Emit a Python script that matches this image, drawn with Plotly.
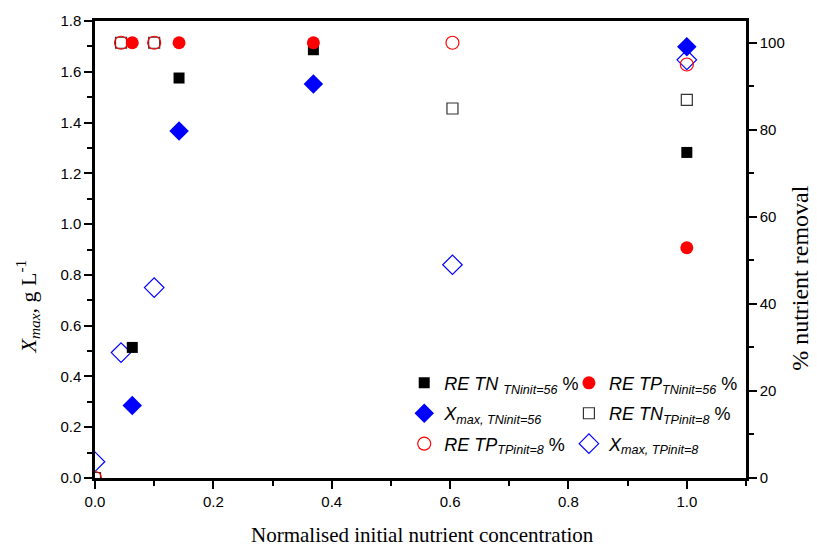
import plotly.graph_objects as go

# ---- data ----
x_tn56 = [0.063, 0.142, 0.369, 1.0]
re_tn_tn56 = [30.0, 91.9, 98.4, 74.8]          # % (right axis)
re_tp_tn56 = [100.0, 100.0, 100.0, 52.9]       # % (right axis)
xmax_tn56 = [0.286, 1.367, 1.552, 1.699]       # g/L (left axis)

x_tp8 = [0.0, 0.044, 0.100, 0.604, 1.0]
re_tn_tp8 = [0.0, 100.0, 100.0, 84.9, 86.9]    # % (right axis)
re_tp_tp8 = [0.0, 100.0, 100.0, 100.0, 95.0]   # % (right axis)
xmax_tp8 = [0.064, 0.494, 0.750, 0.840, 1.647] # g/L (left axis)

x_ticks = [0.0, 0.2, 0.4, 0.6, 0.8, 1.0]
y_ticks = [0.0, 0.2, 0.4, 0.6, 0.8, 1.0, 1.2, 1.4, 1.6, 1.8]
y2_ticks = [0, 20, 40, 60, 80, 100]

fig = go.Figure()

lf = dict(family="Liberation Sans", size=18, color="black")

def tr(x, y, name, symbol, color, size, yaxis, legend, rank, filled=True):
    return go.Scatter(
        x=x, y=y, mode="markers", name=name, yaxis=yaxis, legend=legend, legendrank=rank,
        legendgroup=name,
        marker=dict(symbol=symbol if filled else symbol + "-open", size=size, color=color,
                    line=dict(color=color, width=0 if filled else 1.2)),
    )

# draw order: hollow first, filled on top where they overlap
fig.add_trace(tr(x_tp8, re_tn_tp8, "<i>RE TN</i><sub><i>TPinit=8</i></sub> %", "square", "#333333", 11, "y2", "legend2", 2, filled=False))
fig.add_trace(tr(x_tp8, xmax_tp8, "<i>X</i><sub><i>max, TPinit=8</i></sub>", "diamond", "#0000ff", 15, "y", "legend2", 3, filled=False))
fig.add_trace(tr(x_tp8, re_tp_tp8, "<i>RE TP</i><sub><i>TPinit=8</i></sub> %", "circle", "#ff0000", 13, "y2", "legend", 3, filled=False))
fig.add_trace(tr(x_tn56, re_tn_tn56, "<i>RE TN</i> <sub><i>TNinit=56</i></sub> %", "square", "black", 11, "y2", "legend", 1))
fig.add_trace(tr(x_tn56, xmax_tn56, "<i>X</i><sub><i>max, TNinit=56</i></sub>", "diamond", "#0000ff", 15, "y", "legend", 2))
fig.add_trace(tr(x_tn56, re_tp_tn56, "<i>RE TP</i><sub><i>TNinit=56</i></sub> %", "circle", "#ff0000", 13, "y2", "legend2", 1))

tickfont = dict(family="Liberation Sans", size=15, color="black")

fig.update_layout(
    width=817, height=549,
    margin=dict(l=95, r=71, t=21, b=71),
    plot_bgcolor="white", paper_bgcolor="white",
    xaxis=dict(range=[0, 1.1], tickvals=x_ticks, ticktext=[f"{v:.1f}" for v in x_ticks],
               showgrid=False, zeroline=False, showline=True, linecolor="black", linewidth=2.5,
               mirror=True,
               ticks="outside", ticklen=8, tickwidth=2, tickcolor="black",
               minor=dict(dtick=0.1, ticks="outside", ticklen=5, tickwidth=2, tickcolor="black"),
               tickfont=tickfont),
    yaxis=dict(range=[0, 1.8], tickvals=y_ticks, ticktext=[f"{v:.1f}" for v in y_ticks],
               showgrid=False, zeroline=False, showline=True, linecolor="black", linewidth=2.5,
               ticks="outside", ticklen=8, tickwidth=2, tickcolor="black",
               minor=dict(dtick=0.1, ticks="outside", ticklen=5, tickwidth=2, tickcolor="black"),
               tickfont=tickfont),
    yaxis2=dict(range=[0, 105], overlaying="y", side="right", tickvals=y2_ticks,
                showgrid=False, zeroline=False, showline=True, linecolor="black", linewidth=2.5,
                ticks="outside", ticklen=8, tickwidth=2, tickcolor="black",
                minor=dict(dtick=10, ticks="outside", ticklen=5, tickwidth=2, tickcolor="black"),
                tickfont=tickfont),
    legend=dict(x=0.475, y=0.248, xanchor="left", yanchor="top", bgcolor="rgba(0,0,0,0)",
                borderwidth=0, font=lf, tracegroupgap=4, itemsizing="trace", traceorder="grouped"),
    legend2=dict(x=0.728, y=0.248, xanchor="left", yanchor="top", bgcolor="rgba(0,0,0,0)",
                 borderwidth=0, font=lf, tracegroupgap=4, itemsizing="trace", traceorder="grouped"),
    showlegend=True,
    annotations=[
        dict(text="Normalised initial nutrient concentration", xref="paper", yref="paper",
             x=0.503, y=-0.124, showarrow=False, xanchor="center", yanchor="middle",
             font=dict(family="Liberation Serif", size=21, color="black")),
        dict(text="<i>X</i><sub><i>max</i></sub>, g L<sup>-1</sup>", xref="paper", yref="paper",
             x=-0.103, y=0.375, showarrow=False, xanchor="center", yanchor="middle", textangle=-90,
             font=dict(family="Liberation Serif", size=22, color="black")),
        dict(text="% nutrient removal", xref="paper", yref="paper",
             x=1.083, y=0.438, showarrow=False, xanchor="center", yanchor="middle", textangle=-90,
             font=dict(family="Liberation Serif", size=24, color="black")),
    ],
)

fig.write_html("out.html")
